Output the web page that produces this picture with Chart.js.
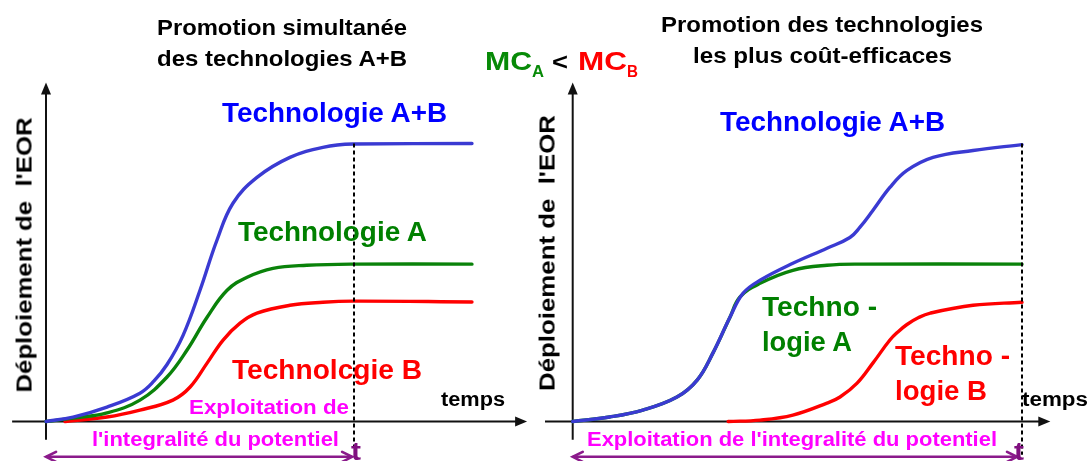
<!DOCTYPE html>
<html>
<head>
<meta charset="utf-8">
<script src="https://cdn.jsdelivr.net/npm/chart.js@4.4.1/dist/chart.umd.min.js"></script>
<style>
  html, body { margin: 0; padding: 0; background: #fff; }
  #stage { position: relative; width: 1090px; height: 461px; overflow: hidden; background: #fff; }
  #stage canvas { position: absolute; top: 0; }
  .lbl { position: absolute; white-space: pre; font-family: "Liberation Sans", Arial, sans-serif;
         font-weight: bold; line-height: 1; transform-origin: 0 0; }
  .vlbl { position: absolute; white-space: pre; font-family: "Liberation Sans", Arial, sans-serif;
          font-weight: bold; line-height: 1; transform-origin: 50% 50%; }
</style>
</head>
<body>
<div id="stage">
  <canvas id="leftPanel" width="545" height="461" style="left:0px"></canvas>
  <canvas id="rightPanel" width="545" height="461" style="left:545px"></canvas>
</div>
<script>
// ---- Left panel: both technologies promoted at the same time ----
const timeLeftAB = [0, 8.8, 19.8, 30.5, 35, 39.3, 44.5, 50, 55.5, 60.7, 68.5, 79.2, 89.9, 99.7, 138.3];
const deployLeftAB = [0, 1.6, 5.2, 10.2, 14.5, 20.5, 31.0, 47.2, 65.2, 78.5, 87.8, 95.0, 98.6, 99.8, 100];

const timeLeftA = [0, 8.8, 19.8, 30.5, 39.3, 45.8, 52.3, 58.8, 65.3, 73.7, 84.7, 99.7, 138.3];
const deployLeftA = [0, 1.2, 3.1, 7.7, 16.0, 25.7, 37.5, 47.2, 51.9, 55.1, 56.2, 56.6, 56.6];

const timeLeftB = [6.2, 19.8, 30.5, 41.2, 46.8, 52.3, 57.5, 63, 68.5, 79.2, 89.9, 99.7, 138.3];
const deployLeftB = [0, 1.6, 4.1, 7.7, 12.4, 21.0, 29.3, 35.4, 39.0, 41.8, 42.9, 43.3, 43.0];

// ---- Right panel: the most cost-effective technology first ----
const timeRightAB = [0, 8.2, 15.6, 23.2, 27.7, 31.2, 35.0, 37.9, 41.7, 49.0, 56.6, 61.7, 63.9, 66.8, 70.6, 74.4, 80.2, 89.1, 100];
const deployRightAB = [0, 1.6, 4.1, 8.8, 14.9, 24.6, 37.5, 46.1, 50.8, 56.9, 62.3, 66.2, 69.8, 75.9, 84.2, 90.3, 95.0, 97.5, 99.6];

const timeRightA = [0, 8.2, 15.6, 23.2, 27.7, 31.2, 35.0, 37.2, 41.7, 49.0, 56.6, 63.9, 100];
const deployRightA = [0, 1.6, 4.1, 8.8, 14.9, 24.6, 37.5, 44.7, 49.7, 54.4, 56.2, 56.6, 56.6];

const timeRightB = [34.6, 41.7, 49.0, 56.6, 59.5, 63.3, 66.8, 70.6, 72.5, 74.4, 77.0, 79.6, 89.1, 100];
const deployRightB = [0, 0.5, 2.3, 6.6, 8.8, 13.8, 21.0, 29.3, 32.4, 34.9, 37.4, 39.0, 41.8, 42.9];

const seriesNames = ['Technologie A+B', 'Technologie A', 'Technologie B'];
const curveColors = ['#3a3ad2', '#0a820a', '#ff0000'];

function pairs(xs, ys) { return xs.map((x, i) => ({ x: x, y: ys[i] })); }

function makeDatasets(sets) {
  return sets.map((s, i) => ({
    label: seriesNames[i],
    data: pairs(s[0], s[1]),
    borderColor: curveColors[i],
    borderWidth: 3.4,
    pointRadius: 0,
    fill: false,
    clip: false,
    tension: 0.4,
    borderCapStyle: 'round',
    borderJoinStyle: 'round'
  }));
}

function arrowHead(ctx, x, y, dx, dy, len, half, filled) {
  const nx = -dy, ny = dx;
  ctx.beginPath();
  ctx.moveTo(x - dx * len + nx * half, y - dy * len + ny * half);
  ctx.lineTo(x, y);
  ctx.lineTo(x - dx * len - nx * half, y - dy * len - ny * half);
  if (filled) { ctx.closePath(); ctx.fill(); } else { ctx.stroke(); }
}

// Axes with arrow heads, the dashed time limit and the span arrow
const framePlugin = {
  id: 'frame',
  beforeDatasetsDraw(chart, args, o) {
    const { ctx, scales: { x, y } } = chart;
    const y0 = y.getPixelForValue(0);
    const x0 = x.getPixelForValue(0);
    const xa = x.getPixelForValue(o.xFrom), xb = x.getPixelForValue(o.xTo);
    const ya = y.getPixelForValue(o.yFrom), yb = y.getPixelForValue(o.yTo);
    ctx.save();
    ctx.strokeStyle = '#111'; ctx.fillStyle = '#111'; ctx.lineWidth = 2;
    ctx.beginPath(); ctx.moveTo(xa, y0); ctx.lineTo(xb - 8, y0); ctx.stroke();
    arrowHead(ctx, xb, y0, 1, 0, 12, 5, true);
    ctx.beginPath(); ctx.moveTo(x0, ya); ctx.lineTo(x0, yb + 8); ctx.stroke();
    arrowHead(ctx, x0, yb, 0, -1, 12, 5, true);
    ctx.restore();
  },
  afterDatasetsDraw(chart, args, o) {
    const { ctx, scales: { x, y } } = chart;
    const xt = x.getPixelForValue(o.tMark);
    ctx.save();
    ctx.strokeStyle = '#000'; ctx.lineWidth = 2; ctx.setLineDash([4, 3]);
    ctx.beginPath(); ctx.moveTo(xt, y.getPixelForValue(o.dashTop)); ctx.lineTo(xt, y.getPixelForValue(o.dashBottom)); ctx.stroke();
    ctx.setLineDash([]);
    const ys = y.getPixelForValue(o.spanY);
    const s0 = x.getPixelForValue(0), s1 = x.getPixelForValue(o.spanTo);
    ctx.strokeStyle = '#8b1a8b'; ctx.lineWidth = 2.6; ctx.lineCap = 'round';
    ctx.beginPath(); ctx.moveTo(s0 + 1, ys); ctx.lineTo(s1 - 1, ys); ctx.stroke();
    arrowHead(ctx, s1, ys, 1, 0, 10, 5, false);
    arrowHead(ctx, s0, ys, -1, 0, 10, 5, false);
    ctx.restore();
  }
};

function makeChart(id, sets, xMax, padding, frame) {
  return new Chart(document.getElementById(id), {
    type: 'line',
    data: { datasets: makeDatasets(sets) },
    options: {
      responsive: false,
      animation: false,
      events: [],
      layout: { padding: padding },
      scales: {
        x: { type: 'linear', min: 0, max: xMax, display: false },
        y: { type: 'linear', min: 0, max: 100, display: false }
      },
      plugins: { legend: { display: false }, tooltip: { enabled: false }, frame: frame }
    },
    plugins: [framePlugin]
  });
}

makeChart('leftPanel',
  [[timeLeftAB, deployLeftAB], [timeLeftA, deployLeftA], [timeLeftB, deployLeftB]],
  140, { left: 46, right: 67.8, top: 143.5, bottom: 39.5 },
  { xFrom: -11, xTo: 156.2, yFrom: -6.6, yTo: 121.9, tMark: 100, dashTop: 100, dashBottom: -9.2, spanY: -12.7, spanTo: 99.4 });

makeChart('rightPanel',
  [[timeRightAB, deployRightAB], [timeRightA, deployRightA], [timeRightB, deployRightB]],
  100, { left: 27.7, right: 68, top: 143.5, bottom: 39.5 },
  { xFrom: -8.2, xTo: 106.3, yFrom: -6.6, yTo: 121.9, tMark: 100, dashTop: 100, dashBottom: -12.0, spanY: -12.7, spanTo: 98.9 });

// ---- Text ----
const stage = document.getElementById('stage');

function label(text, x0, x1, baseline, size, color) {
  const s = document.createElement('span');
  s.className = 'lbl';
  s.textContent = text;
  s.style.fontSize = size + 'px';
  s.style.color = color;
  stage.appendChild(s);
  const w = s.getBoundingClientRect().width;
  s.style.left = x0 + 'px';
  s.style.top = (baseline - 0.8465 * size) + 'px';
  s.style.transform = 'scaleX(' + ((x1 - x0) / w).toFixed(4) + ')';
}

function vlabel(text, cx, y0, y1, size, color) {
  const s = document.createElement('span');
  s.className = 'vlbl';
  s.textContent = text;
  s.style.fontSize = size + 'px';
  s.style.color = color;
  stage.appendChild(s);
  const r = s.getBoundingClientRect();
  const k = (y1 - y0) / r.width;
  s.style.left = (cx - r.width / 2) + 'px';
  s.style.top = ((y0 + y1) / 2 - r.height / 2) + 'px';
  s.style.transform = 'rotate(-90deg) scaleX(' + k.toFixed(4) + ')';
}

// titles
label('Promotion simultanée', 157, 407, 36, 22, '#000');
label('des technologies A+B', 157, 407, 67, 22, '#000');
label('Promotion des technologies', 661, 983, 33, 22, '#000');
label('les plus coût-efficaces', 693, 952, 64, 22, '#000');

// cost comparison
label('MC', 485, 532, 70, 25, '#078a07');
label('A', 532, 544, 78, 16, '#078a07');
label('<', 552, 568, 70, 24, '#000');
label('MC', 578, 627, 70, 25, '#ff0000');
label('B', 627, 638, 78, 16, '#ff0000');

// axis titles
vlabel('Déploiement de  l\'EOR', 25, 117, 392, 22, '#000');
vlabel('Déploiement de  l\'EOR', 548, 115, 391, 22, '#000');
label('temps', 441, 505, 406, 20, '#000');
label('temps', 1022, 1088, 406, 20, '#000');
label('t', 351, 361, 460, 26, '#80107f');
label('t', 1014, 1024, 460, 26, '#80107f');

// left series labels
label('Technologie A+B', 222, 447, 123, 27, '#0000ff');
label('Technologie A', 238, 427, 242, 27, '#008000');
label('Technolcgie B', 232, 422, 380, 27, '#ff0000');
label('Exploitation de', 189, 349, 414, 21, '#ff00ff');
label('l\'integralité du potentiel', 92, 339, 446, 21, '#ff00ff');

// right series labels
label('Technologie A+B', 720, 945, 132, 27, '#0000ff');
label('Techno -', 762, 877, 317, 27, '#008000');
label('logie A', 762, 852, 352, 27, '#008000');
label('Techno -', 895, 1010, 366, 27, '#ff0000');
label('logie B', 895, 987, 401, 27, '#ff0000');
label('Exploitation de l\'integralité du potentiel', 587, 997, 446, 21, '#ff00ff');
</script>
</body>
</html>
